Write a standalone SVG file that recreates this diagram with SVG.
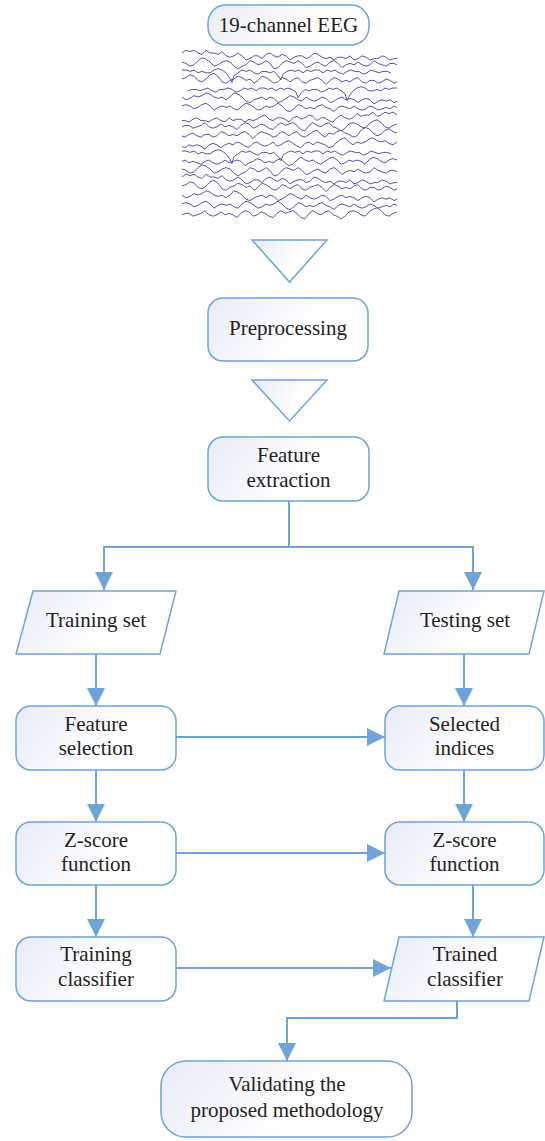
<svg xmlns="http://www.w3.org/2000/svg" xmlns:xlink="http://www.w3.org/1999/xlink" width="545" height="1141" viewBox="0 0 545 1141">
<defs>
<linearGradient id="g" x1="0" y1="0" x2="1" y2="0.3">
<stop offset="0" stop-color="#e8ebf7"/>
<stop offset="0.7" stop-color="#ffffff"/>
</linearGradient>
<marker id="ah" viewBox="0 0 18 18" markerWidth="18" markerHeight="18" refX="18" refY="9" orient="auto" markerUnits="userSpaceOnUse">
<path d="M0,0 L18,9 L0,18 z" fill="#70a3d8"/>
</marker>
<g id="w1" transform="scale(1,1.4)"><path vector-effect="non-scaling-stroke" d="M0,0 l4,-2 4,1 4,-1 4,2 4,1 4,-3 4,2 4,0 4,1 4,-2 4,3 4,1 4,-1 4,-2 4,2 4,3 4,-1 4,-2 4,0 4,2 4,-3 4,-1 4,2 4,1 4,-2 4,1 4,3 4,-2 4,-1 4,0 4,2 4,-1 4,-3 4,1 4,2 4,1 4,-1 4,2 4,-2 4,0 4,1 4,-2 4,3 4,-1 4,-2 4,1 4,2 4,-1 4,0 4,-2 4,1 4,2 4,-1 3,0"/></g>
<g id="w2" transform="scale(1,1.4)"><path vector-effect="non-scaling-stroke" d="M0,0 l4,1 4,2 4,-1 4,-3 4,-2 4,1 4,2 4,3 4,-1 4,-2 4,-1 4,1 4,3 4,2 4,-2 4,-1 4,-3 4,1 4,2 4,-1 4,-2 4,2 4,4 4,-1 4,-3 4,-2 4,1 4,1 4,-2 4,2 4,3 4,-1 4,-2 4,-1 4,2 4,1 4,-3 4,-1 4,2 4,3 4,-2 4,-1 4,1 4,-2 4,2 4,1 4,-1 4,-3 4,2 4,1 4,1 4,-2 4,0 3,1"/></g>
<g id="w3" transform="scale(1,1.4)"><path vector-effect="non-scaling-stroke" d="M0,0 l4,-1 4,-2 4,1 4,3 4,1 4,-2 4,-3 4,-1 4,2 4,4 4,1 4,-2 4,-1 4,-2 4,1 4,2 4,-1 4,3 4,-2 4,-3 4,1 4,2 4,2 4,-1 4,-3 4,1 4,2 4,-2 4,-1 4,3 4,1 4,-2 4,-1 4,-1 4,2 4,3 4,-3 4,-2 4,1 4,2 4,-1 4,1 4,-2 4,-1 4,3 4,1 4,-2 4,0 4,2 4,-1 4,-2 4,1 4,2 3,-1"/></g>
<g id="w4" transform="scale(1,1.4)"><path vector-effect="non-scaling-stroke" d="M0,0 l4,0 4,1 4,-1 4,2 4,-1 4,1 4,0 4,-2 4,-1 4,1 4,2 4,4 2,3 2,-5 4,-2 4,-2 4,1 4,-1 4,2 4,1 4,-2 4,0 4,1 4,-1 4,3 3,3 2,-4 4,-2 4,-1 4,1 4,-1 4,2 4,-2 4,1 4,-1 4,0 4,2 4,-2 4,1 4,-1 4,2 4,1 4,-2 4,-1 4,1 4,0 4,2 4,-1 4,-2 4,1 4,1 4,-1 4,0 4,1"/></g>
<g id="w5" transform="scale(1,1.4)"><path vector-effect="non-scaling-stroke" d="M0,0 l4,2 4,-1 4,-2 4,1 4,-1 4,-2 4,1 4,2 4,1 4,-1 4,2 4,-2 4,-3 4,1 4,2 4,3 4,1 4,-2 4,-1 4,-1 4,2 4,-2 4,1 4,3 4,-1 4,-2 4,-2 4,1 4,2 4,1 4,-3 4,2 4,1 4,-1 4,-2 4,1 4,3 4,-1 4,-2 4,-1 4,2 4,-1 4,1 4,2 4,-2 4,-1 4,1 4,3 4,-2 4,-1 4,1 4,-1 4,2 3,-1"/></g>
<g id="w6" transform="scale(1,1.4)"><path vector-effect="non-scaling-stroke" d="M0,0 l4,-1 4,1 4,2 4,-1 4,-2 4,-1 4,2 4,3 4,-2 4,-1 4,1 4,-1 4,2 4,1 4,-3 4,-2 4,1 4,2 4,2 4,-1 4,-2 4,1 4,-1 4,-2 4,2 4,3 4,1 4,-2 4,-3 4,1 4,2 4,-1 4,1 4,-2 4,-1 4,2 4,1 4,2 4,-3 4,-1 4,1 4,1 4,-2 4,2 4,1 4,-1 4,-2 4,1 4,2 4,-1 4,-1 4,1 4,-2 3,1"/></g>
</defs>
<style>
.box{fill:url(#g);stroke:#70a3d8;stroke-width:1.5}
.t{font-family:"Liberation Serif",Tinos,"Times New Roman","DejaVu Serif",serif;font-size:21px;fill:#231f20;text-anchor:middle}
.c{fill:none;stroke:#70a3d8;stroke-width:2}
.w{fill:none;stroke:#5a55ad;stroke-width:1;stroke-linejoin:round}
</style>

<g id="eeg">
<rect class="box" x="208" y="5" width="161" height="40" rx="18"/>
<text class="t" x="288.5" y="32" font-family="Liberation Serif, serif">19-channel EEG</text>
</g>

<g id="eeg-waves" class="w">
<use xlink:href="#w1" x="182" y="53"/>
<use xlink:href="#w2" x="182" y="62"/>
<use xlink:href="#w4" x="182" y="70"/>
<use xlink:href="#w3" x="182" y="79"/>
<use xlink:href="#w4" transform="translate(579,0) scale(-1,1)" x="182" y="88"/>
<use xlink:href="#w5" x="182" y="97"/>
<use xlink:href="#w6" x="182" y="106"/>
<use xlink:href="#w1" transform="translate(579,0) scale(-1,1)" x="182" y="115"/>
<use xlink:href="#w2" transform="translate(579,0) scale(-1,1)" x="182" y="124"/>
<use xlink:href="#w3" transform="translate(579,0) scale(-1,1)" x="182" y="133"/>
<use xlink:href="#w5" transform="translate(579,0) scale(-1,1)" x="182" y="142"/>
<use xlink:href="#w4" x="182" y="151"/>
<use xlink:href="#w6" transform="translate(579,0) scale(-1,1)" x="182" y="160"/>
<use xlink:href="#w2" x="182" y="169"/>
<use xlink:href="#w1" x="182" y="177"/>
<use xlink:href="#w3" x="182" y="186"/>
<use xlink:href="#w5" x="182" y="195"/>
<use xlink:href="#w6" x="182" y="204"/>
<use xlink:href="#w2" transform="translate(579,0) scale(-1,1)" x="182" y="212"/>
</g>

<g id="tri1">
<polygon class="box" points="252,240 327,240 289.5,282"/>
</g>

<g id="preprocessing">
<rect class="box" x="208" y="298" width="160" height="63" rx="15"/>
<text class="t" x="288" y="335">Preprocessing</text>
</g>

<g id="tri2">
<polygon class="box" points="252,380 327,380 289.5,421"/>
</g>

<g id="feature-extraction">
<rect class="box" x="208" y="437" width="161" height="64" rx="15"/>
<text class="t" x="288.5" y="462">Feature</text>
<text class="t" x="288.5" y="487">extraction</text>
</g>

<g id="training-set">
<polygon class="box" points="33,591 176,591 160,654 16,654"/>
<text class="t" x="96" y="627">Training set</text>
</g>

<g id="testing-set">
<polygon class="box" points="399,591 544,591 529,654 384,654"/>
<text class="t" x="465" y="627">Testing set</text>
</g>

<g id="feature-selection">
<rect class="box" x="16" y="706" width="160" height="64" rx="15"/>
<text class="t" x="96" y="731">Feature</text>
<text class="t" x="96" y="755">selection</text>
</g>

<g id="selected-indices">
<rect class="box" x="385" y="706" width="159" height="64" rx="15"/>
<text class="t" x="464.5" y="731">Selected</text>
<text class="t" x="464.5" y="755">indices</text>
</g>

<g id="zscore-left">
<rect class="box" x="16" y="822" width="160" height="63" rx="15"/>
<text class="t" x="96" y="847">Z-score</text>
<text class="t" x="96" y="871">function</text>
</g>

<g id="zscore-right">
<rect class="box" x="385" y="822" width="159" height="63" rx="15"/>
<text class="t" x="464.5" y="847">Z-score</text>
<text class="t" x="464.5" y="871">function</text>
</g>

<g id="training-classifier">
<rect class="box" x="16" y="937" width="160" height="64" rx="15"/>
<text class="t" x="96" y="961">Training</text>
<text class="t" x="96" y="986">classifier</text>
</g>

<g id="trained-classifier">
<polygon class="box" points="399,937 544,937 529,1001 384,1001"/>
<text class="t" x="465" y="961">Trained</text>
<text class="t" x="465" y="986">classifier</text>
</g>

<g id="validating">
<rect class="box" x="161" y="1061" width="251" height="76" rx="25"/>
<text class="t" x="287" y="1091">Validating the</text>
<text class="t" x="287" y="1117">proposed methodology</text>
</g>

<g id="connectors" class="c">
<path d="M289,501 V547 H104 V590" marker-end="url(#ah)"/>
<path d="M289,547 H473 V590" marker-end="url(#ah)"/>
<path d="M96,654 V706" marker-end="url(#ah)"/>
<path d="M464,654 V706" marker-end="url(#ah)"/>
<path d="M176,737 H385" marker-end="url(#ah)"/>
<path d="M96,770 V822" marker-end="url(#ah)"/>
<path d="M464,770 V822" marker-end="url(#ah)"/>
<path d="M176,853 H385" marker-end="url(#ah)"/>
<path d="M96,885 V937" marker-end="url(#ah)"/>
<path d="M473,885 V937" marker-end="url(#ah)"/>
<path d="M176,968 H391" marker-end="url(#ah)"/>
<path d="M457,1001 V1018 H287 V1061" marker-end="url(#ah)"/>
</g>
</svg>
